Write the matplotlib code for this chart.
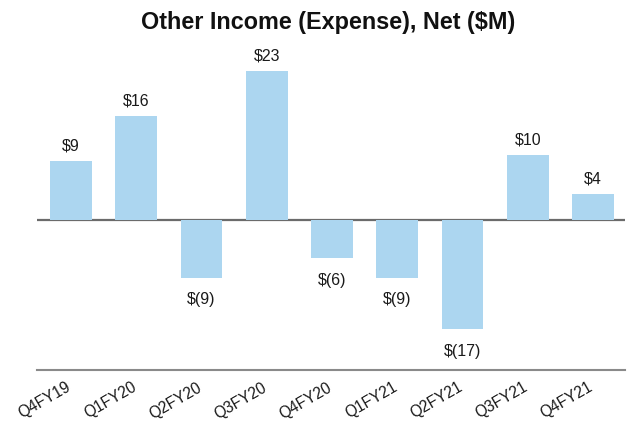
import matplotlib
matplotlib.use("Agg")
import matplotlib.pyplot as plt
from matplotlib.transforms import ScaledTranslation

# Quarterly other income (expense), net, in $M
quarters = ["Q4FY19", "Q1FY20", "Q2FY20", "Q3FY20", "Q4FY20",
            "Q1FY21", "Q2FY21", "Q3FY21", "Q4FY21"]
values = [9, 16, -9, 23, -6, -9, -17, 10, 4]

plt.rcParams["font.family"] = ["Liberation Sans", "DejaVu Sans"]

W, H = 627, 428
fig = plt.figure(figsize=(W / 100, H / 100), dpi=100)

# plot area in pixel terms
left_px, right_px = 37, 625
top_px, bottom_px = 60, 370
zero_px = 219.5
px_per_unit = 6.45

ax = fig.add_axes([left_px / W, 1 - bottom_px / H,
                   (right_px - left_px) / W, (bottom_px - top_px) / H])

bar_color = "#acd6f0"
x = list(range(len(quarters)))
ax.bar(x, values, width=0.64, color=bar_color, zorder=2)
ax.axhline(0, color="#6b6b6b", linewidth=1.6, zorder=1)

ax.set_xlim(-0.521, 8.49)
ax.set_ylim(-(bottom_px - zero_px) / px_per_unit, (zero_px - top_px) / px_per_unit)

for xi, v in zip(x, values):
    if v >= 0:
        txt = f"${v}"
        ax.annotate(txt, (xi, v), xytext=(0, 5.5), textcoords="offset points",
                    ha="center", va="bottom", fontsize=11.5, color="#1a1a1a")
    else:
        txt = f"$({-v})"
        ax.annotate(txt, (xi, v), xytext=(0, -10.5), textcoords="offset points",
                    ha="center", va="top", fontsize=11.5, color="#1a1a1a")

ax.set_xticks(x)
ax.set_xticklabels(quarters, rotation=30, ha="right", rotation_mode="anchor",
                   fontsize=11.2, color="#1a1a1a")
ax.tick_params(axis="x", length=0, pad=7)
shift = ScaledTranslation(-5 / 100, 0, fig.dpi_scale_trans)
for lbl in ax.get_xticklabels():
    lbl.set_transform(lbl.get_transform() + shift)
ax.set_yticks([])

for side in ["top", "left", "right"]:
    ax.spines[side].set_visible(False)
ax.spines["bottom"].set_color("#8a8a8a")
ax.spines["bottom"].set_linewidth(1.5)

fig.text(328 / W, 1 - 22 / H, "Other Income (Expense), Net ($M)",
         ha="center", va="center", fontsize=16.8, fontweight="bold", color="#111111")

fig.savefig("out.png", dpi=100)
